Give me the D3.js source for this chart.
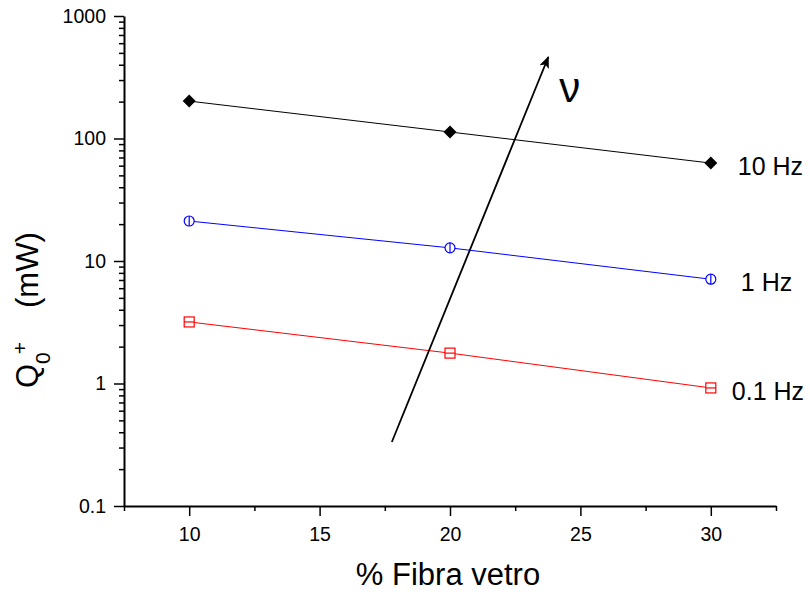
<!DOCTYPE html>
<html>
<head>
<meta charset="utf-8">
<script src="https://cdn.jsdelivr.net/npm/d3@7"></script>
<style>
  body { margin: 0; background: #fff; }
  text { font-family: "Liberation Sans", Arial, sans-serif; }
</style>
</head>
<body>
<div id="chart"></div>
<script>
//Datos
const fibra = [10, 20, 30];
const q10Hz = [202, 113, 63];
const q1Hz = [21.2, 12.8, 7.1];
const q01Hz = [3.18, 1.77, 0.92];
const serieLabels = ['10 Hz', '1 Hz', '0.1 Hz'];
const xMajorTicks = [10, 15, 20, 25, 30];
const xMinorTicks = [7.5, 12.5, 17.5, 22.5, 27.5, 32.5];
const yMajorTicks = [0.1, 1, 10, 100, 1000];
//Flecha de frecuencia (inicio, fin) en coordenadas de datos
const arrowX = [17.77, 23.77];
const arrowY = [0.333, 463];

const COLOR_10 = '#000000', COLOR_1 = '#0000ff', COLOR_01 = '#ff0000';

let margin = {top: 16, right: 34, bottom: 89, left: 124},
    width = 810 - margin.left - margin.right,
    height = 595 - margin.top - margin.bottom;

let svg = d3.select('#chart')
    .append('svg')
        .attr('width', 810)
        .attr('height', 595)
    .append('g')
        .attr('transform', 'translate(' + margin.left + ',' + margin.top + ')');

let x = d3.scaleLinear().domain([7.5, 32.5]).range([0, width]);
let y = d3.scaleLog().domain([0.1, 1000]).range([height, 0]);

//Ticks menores del eje Y
let yMinor = [];
yMajorTicks.slice(0, -1).forEach(function(d) {
    for (let k = 2; k < 10; k++) yMinor.push(d * k);
});

//Eje X
svg.append('g')
    .attr('transform', 'translate(0,' + height + ')')
    .call(d3.axisBottom(x).tickValues(xMinorTicks).tickSize(5).tickFormat(''))
    .call(g => g.select('.domain').remove())
    .selectAll('line').attr('stroke-width', 1.5);

let gx = svg.append('g')
    .attr('transform', 'translate(0,' + height + ')')
    .call(d3.axisBottom(x).tickValues(xMajorTicks).tickSize(10).tickSizeOuter(0).tickPadding(11).tickFormat(d3.format('d')));
gx.select('.domain').attr('stroke-width', 2);
gx.selectAll('line').attr('stroke-width', 1.5);
gx.selectAll('text').attr('font-size', 19.5).attr('fill', '#000');

//Eje Y
svg.append('g')
    .call(d3.axisLeft(y).tickValues(yMinor).tickSize(5).tickFormat(''))
    .call(g => g.select('.domain').remove())
    .selectAll('line').attr('stroke-width', 1.5);

let gy = svg.append('g')
    .call(d3.axisLeft(y).tickValues(yMajorTicks).tickSize(10).tickSizeOuter(0).tickPadding(8).tickFormat(d => d < 1 ? '0.1' : d3.format('d')(d)));
gy.select('.domain').attr('stroke-width', 2);
gy.selectAll('line').attr('stroke-width', 1.5);
gy.selectAll('text').attr('font-size', 19.5).attr('fill', '#000');

//Títulos de ejes
svg.append('text')
    .attr('x', x(20) - 2)
    .attr('y', 585 - margin.top)
    .attr('text-anchor', 'middle')
    .attr('font-size', 31)
    .text('% Fibra vetro');

let yTitle = svg.append('text')
    .attr('transform', 'translate(' + (38 - margin.left) + ',' + (388 - margin.top) + ') rotate(-90)')
    .attr('text-anchor', 'start')
    .attr('font-size', 31);
yTitle.append('tspan').text('Q');
yTitle.append('tspan').attr('font-size', 21).attr('dy', 12).text('0');
yTitle.append('tspan').attr('font-size', 21).attr('dx', -2).attr('dy', -23).text('+');
yTitle.append('tspan').attr('x', 80).attr('dy', 11).text('(mW)');

//Series
let series = [
    {values: q10Hz, color: COLOR_10, marker: 'diamond', label: serieLabels[0], dx: 27},
    {values: q1Hz, color: COLOR_1, marker: 'circle', label: serieLabels[1], dx: 30},
    {values: q01Hz, color: COLOR_01, marker: 'square', label: serieLabels[2], dx: 21}
];

let line = d3.line()
    .x(d => x(d[0]))
    .y(d => y(d[1]));

series.forEach(function(s, si) {
    let pts = fibra.map((f, i) => [f, s.values[i]]);
    svg.append('path')
        .datum(pts)
        .attr('fill', 'none')
        .attr('stroke', s.color)
        .attr('stroke-width', 1)
        .attr('d', line);

    let m = svg.selectAll('.m' + si)
        .data(pts)
        .enter()
        .append('g')
        .attr('transform', d => 'translate(' + x(d[0]) + ',' + y(d[1]) + ')');

    if (s.marker == 'diamond') {
        m.append('path')
            .attr('d', 'M0,-6.5L6.5,0L0,6.5L-6.5,0Z')
            .attr('fill', s.color);
    } else if (s.marker == 'circle') {
        m.append('circle')
            .attr('r', 5)
            .attr('fill', '#fff')
            .attr('stroke', s.color)
            .attr('stroke-width', 1.2);
        m.append('line')
            .attr('y1', -5).attr('y2', 5)
            .attr('stroke', s.color)
            .attr('stroke-width', 1.2);
    } else {
        m.append('rect')
            .attr('x', -5).attr('y', -5)
            .attr('width', 10).attr('height', 10)
            .attr('fill', '#fff')
            .attr('stroke', s.color)
            .attr('stroke-width', 1.2);
        m.append('line')
            .attr('x1', -5).attr('x2', 5)
            .attr('stroke', s.color)
            .attr('stroke-width', 1.2);
    }

    //Etiqueta de la serie
    svg.append('text')
        .attr('x', x(30) + s.dx)
        .attr('y', y(s.values[2]) + 12)
        .attr('font-size', 25)
        .text(s.label);
});

//Flecha
svg.append('defs')
    .append('marker')
        .attr('id', 'arrow')
        .attr('viewBox', '0 0 12 10')
        .attr('refX', 11)
        .attr('refY', 5)
        .attr('markerWidth', 12)
        .attr('markerHeight', 10)
        .attr('markerUnits', 'userSpaceOnUse')
        .attr('orient', 'auto')
    .append('path')
        .attr('d', 'M0,0L12,5L0,10L3,5Z')
        .attr('fill', '#000');

svg.append('line')
    .attr('x1', x(arrowX[0]))
    .attr('y1', y(arrowY[0]))
    .attr('x2', x(arrowX[1]))
    .attr('y2', y(arrowY[1]))
    .attr('stroke', '#000')
    .attr('stroke-width', 1.8)
    .attr('marker-end', 'url(#arrow)');

svg.append('text')
    .attr('x', x(arrowX[1]) + 11)
    .attr('y', y(arrowY[1]) + 45)
    .attr('font-family', '"Liberation Serif", "Times New Roman", serif')
    .attr('font-size', 42)
    .text('\u03bd');
</script>
</body>
</html>
